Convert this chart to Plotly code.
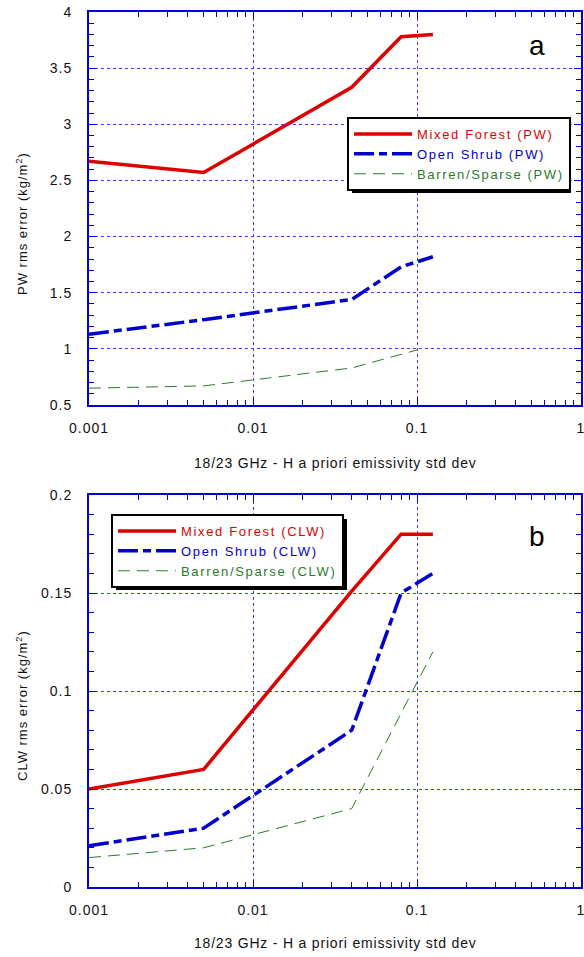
import plotly.graph_objects as go

# ---------------- data ----------------
x_pw = [0.001, 0.005, 0.04, 0.08, 0.125]
forest_pw = [2.67, 2.57, 3.33, 3.78, 3.80]
shrub_pw = [1.13, 1.26, 1.44, 1.73, 1.82]
x_pw_barren = [0.001, 0.005, 0.04, 0.1]
barren_pw = [0.65, 0.67, 0.83, 0.99]

x_clw = [0.001, 0.005, 0.04, 0.08, 0.125]
forest_clw = [0.05, 0.06, 0.151, 0.18, 0.18]
shrub_clw = [0.021, 0.03, 0.08, 0.15, 0.16]
x_clw_barren = [0.001, 0.005, 0.04, 0.125]
barren_clw = [0.015, 0.02, 0.04, 0.12]

names_pw = ["Mixed Forest (PW)", "Open Shrub (PW)", "Barren/Sparse (PW)"]
names_clw = ["Mixed Forest (CLW)", "Open Shrub (CLW)", "Barren/Sparse (CLW)"]

x_tickvals = [0.001, 0.01, 0.1, 1]
x_ticktext = ["0.001", "0.01", "0.1", "1"]
y_pw_ticks = [0.5, 1, 1.5, 2, 2.5, 3, 3.5, 4]
y_pw_text = ["0.5", "1", "1.5", "2", "2.5", "3", "3.5", "4"]
y_clw_ticks = [0, 0.05, 0.1, 0.15, 0.2]
y_clw_text = ["0", "0.05", "0.1", "0.15", "0.2"]

x_title = "18/23 GHz - H a priori emissivity std dev"
y_title_pw = "PW rms error (kg/m<sup>2</sup>)"
y_title_clw = "CLW rms error (kg/m<sup>2</sup>)"

# ---------------- style ----------------
W, H = 584, 957
RED = "#dd0000"
BLUE = "#0000cc"
GREEN = "#2b7a2b"
AX = "#0000dd"
GRID = "#3a3aff"
FONT = "Liberation Sans, Arial, sans-serif"


def sp(text, spacing=1.0, color=None):
    style = f"letter-spacing:{spacing}px"
    if color:
        style += f";color:{color}"
    return f"<span style='{style}'>{text}</span>"


styles = [
    dict(color=RED, width=3.5, dash="solid"),
    dict(color=BLUE, width=3.5, dash="20px,5px,8px,5px"),
    dict(color=GREEN, width=1, dash="12px,7px"),
]


def px_x(p):
    return p / W


def px_y(p):
    return 1 - p / H


fig = go.Figure()

series_top = [(x_pw, forest_pw), (x_pw, shrub_pw), (x_pw_barren, barren_pw)]
series_bot = [(x_clw, forest_clw), (x_clw, shrub_clw), (x_clw_barren, barren_clw)]

LEG_SIZE = 13
LEG_SP = 1.65

for (xs, ys), nm, st in zip(series_top, names_pw, styles):
    fig.add_trace(go.Scatter(
        x=xs, y=ys, mode="lines", line=st,
        name=sp(nm, LEG_SP, st["color"]),
        xaxis="x", yaxis="y", legend="legend"))

for (xs, ys), nm, st in zip(series_bot, names_clw, styles):
    fig.add_trace(go.Scatter(
        x=xs, y=ys, mode="lines", line=st,
        name=sp(nm, LEG_SP, st["color"]),
        xaxis="x2", yaxis="y2", legend="legend2"))

xdom = [px_x(89), px_x(581)]
top_dom = [px_y(405), px_y(12)]
bot_dom = [px_y(887), px_y(495)]

x_minor = [m * 10.0 ** e for e in (-3, -2, -1) for m in range(2, 10)]


def xaxis_cfg(anchor):
    return dict(
        type="log", range=[-3, 0], domain=xdom, anchor=anchor,
        tickmode="array", tickvals=x_tickvals,
        ticktext=[sp(t, 1.0) for t in x_ticktext],
        ticks="inside", ticklen=7, tickwidth=1, tickcolor=AX,
        showline=True, linecolor=AX, linewidth=2, mirror="allticks",
        showgrid=True, gridcolor=GRID, gridwidth=1, griddash="dot",
        minor=dict(ticks="inside", ticklen=5, tickcolor=AX, tickwidth=1,
                   tickmode="array", tickvals=x_minor, showgrid=False),
        tickfont=dict(family=FONT, size=14, color="#111"),
        ticklabelstandoff=9, zeroline=False, automargin=False,
        ticklabeloverflow="allow",
    )


def yaxis_cfg(anchor, rng, tv, tt, minor_dt):
    n = int(round((rng[1] - rng[0]) / minor_dt))
    minor_vals = [rng[0] + i * minor_dt for i in range(n + 1)]
    return dict(
        range=rng, domain=top_dom if anchor == "x" else bot_dom, anchor=anchor,
        tickmode="array", tickvals=tv, ticktext=[sp(t, 1.0) for t in tt],
        ticks="inside", ticklen=7, tickwidth=1, tickcolor=AX,
        showline=True, linecolor=AX, linewidth=2, mirror="allticks",
        showgrid=True, gridcolor=GRID, gridwidth=1, griddash="dot",
        minor=dict(ticks="inside", ticklen=5, tickcolor=AX, tickwidth=1,
                   tickmode="array", tickvals=minor_vals, showgrid=False),
        tickfont=dict(family=FONT, size=14, color="#111"),
        ticklabelstandoff=12, zeroline=False, automargin=False,
        ticklabeloverflow="allow",
    )


legend_common = dict(
    bgcolor="white", bordercolor="black", borderwidth=2,
    font=dict(family=FONT, size=LEG_SIZE),
    xanchor="left", yanchor="top", tracegroupgap=0,
    itemwidth=58,
)

# legend boxes (estimated) and shadows
top_box = (347, 117, 567, 189)
bot_box = (111, 514, 343, 586)
shapes = []
for (x0, y0, x1, y1) in (top_box, bot_box):
    shapes.append(dict(type="rect", xref="paper", yref="paper",
                       x0=px_x(x0 + 5), x1=px_x(x1 + 4),
                       y0=px_y(y1 + 4), y1=px_y(y0 + 5),
                       fillcolor="black", line=dict(width=0), layer="above"))

tf = dict(family=FONT, size=14, color="#111")
ann_common = dict(xref="paper", yref="paper", showarrow=False,
                  xanchor="center", yanchor="middle")
annotations = [
    dict(text="a", x=px_x(537), y=px_y(46),
         font=dict(family=FONT, size=28, color="black"), **ann_common),
    dict(text="b", x=px_x(537), y=px_y(536),
         font=dict(family=FONT, size=28, color="black"), **ann_common),
    dict(text=sp(x_title, 0.8), x=px_x(335), y=px_y(463), font=tf, **ann_common),
    dict(text=sp(x_title, 0.8), x=px_x(335), y=px_y(943), font=tf, **ann_common),
    dict(text=sp(y_title_pw, 1.0), x=px_x(22), y=px_y(224), textangle=-90,
         font=dict(family=FONT, size=13, color="#111"), **ann_common),
    dict(text=sp(y_title_clw, 1.0), x=px_x(22), y=px_y(706), textangle=-90,
         font=dict(family=FONT, size=13, color="#111"), **ann_common),
]

fig.update_layout(
    width=W, height=H, margin=dict(l=0, r=0, t=0, b=0, autoexpand=False),
    paper_bgcolor="white", plot_bgcolor="white",
    font=dict(family=FONT),
    xaxis=xaxis_cfg("y"),
    yaxis=yaxis_cfg("x", [0.5, 4], y_pw_ticks, y_pw_text, 0.1),
    xaxis2=xaxis_cfg("y2"),
    yaxis2=yaxis_cfg("x2", [0, 0.2], y_clw_ticks, y_clw_text, 0.01),
    legend=dict(x=px_x(top_box[0]), y=px_y(top_box[1]), **legend_common),
    legend2=dict(x=px_x(bot_box[0]), y=px_y(bot_box[1]), **legend_common),
    shapes=shapes, annotations=annotations, showlegend=True,
    hovermode=False,
)

fig.write_html(
    "out.html",
    config={"displayModeBar": False, "staticPlot": True},
    post_script="document.body.style.margin='0';document.body.style.overflow='hidden';",
)
